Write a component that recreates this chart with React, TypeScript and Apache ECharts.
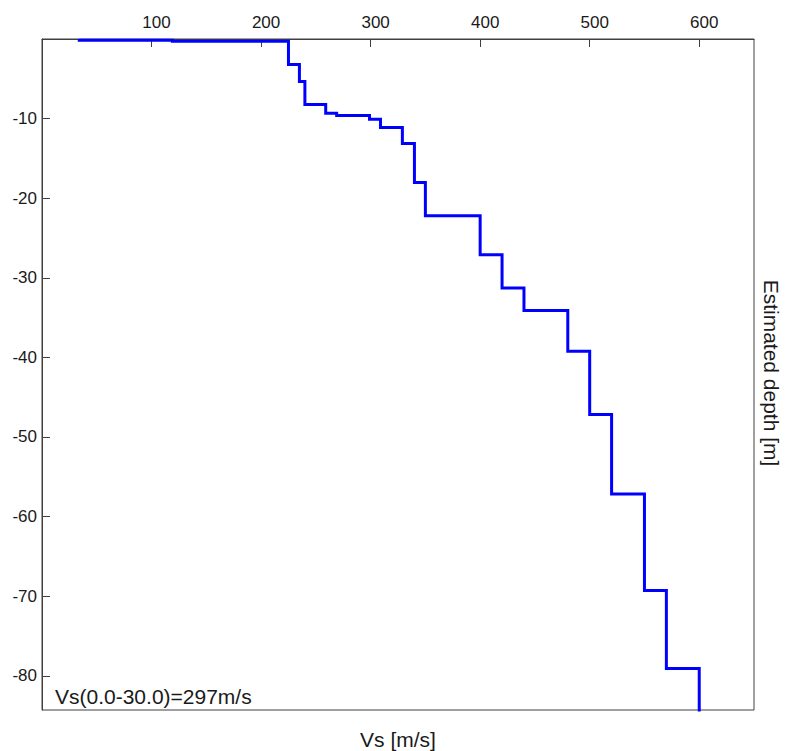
import React, { useEffect, useRef } from "react";
import * as echarts from "echarts";

// Layer shear-wave velocities [m/s], top to bottom
const layerVs = [34, 119, 225, 235, 240, 259, 269, 299, 309, 329, 340, 350, 400, 420, 440, 480, 500, 520, 550, 570, 600];
// Depth of the bottom of each layer [m]
const layerBottom = [0.15, 0.27, 3.2, 5.35, 8.24, 9.32, 9.62, 10.08, 11.13, 13.14, 18.04, 22.22, 27.12, 31.27, 34.12, 39.22, 47.18, 57.15, 69.3, 79.1, 90];
const xTicks = [100, 200, 300, 400, 500, 600];
const yTicks = [-10, -20, -30, -40, -50, -60, -70, -80];
const vs30Text = "Vs(0.0-30.0)=297m/s";

export default function App() {
  const ref = useRef<HTMLDivElement>(null);
  useEffect(() => {
    if (!ref.current) return;
    const chart = echarts.init(ref.current, null, { renderer: "svg" });
    const pts: number[][] = [];
    let top = 0;
    layerVs.forEach((v, i) => {
      pts.push([v, top]);
      pts.push([v, layerBottom[i]]);
      top = layerBottom[i];
    });
    const font = "'Liberation Sans', Arial, sans-serif";
    const axisColor = "#404040";
    const textColor = "#1a1a1a";
    chart.setOption({
      animation: false,
      backgroundColor: "#ffffff",
      grid: {
        left: 42,
        top: 39,
        right: 33,
        bottom: 41,
        show: true,
        borderColor: axisColor,
        borderWidth: 1,
        backgroundColor: "transparent",
      },
      xAxis: {
        type: "value",
        position: "top",
        min: 0,
        max: 650,
        interval: 100,
        splitLine: { show: false },
        axisLine: { show: true, lineStyle: { color: axisColor } },
        axisTick: { show: true, inside: true, length: 8, lineStyle: { color: axisColor } },
        axisLabel: {
          margin: 8,
          color: textColor,
          fontFamily: font,
          fontSize: 17,
          padding: [0, 0, 0, 10],
          showMaxLabel: false,
          formatter: (v: number) => (xTicks.includes(v) ? String(v) : ""),
        },
      },
      yAxis: {
        type: "value",
        inverse: true,
        min: 0,
        max: 84.3,
        interval: 10,
        splitLine: { show: false },
        axisLine: { show: true, lineStyle: { color: axisColor } },
        axisTick: { show: true, inside: true, length: 8, lineStyle: { color: axisColor } },
        axisLabel: {
          margin: 5,
          color: textColor,
          fontFamily: font,
          fontSize: 17,
          showMaxLabel: false,
          formatter: (v: number) => (yTicks.includes(-v) ? String(-v) : ""),
        },
      },
      series: [
        {
          type: "line",
          data: pts,
          showSymbol: false,
          symbol: "none",
          clip: true,
          lineStyle: { color: "#0000ff", width: 3, join: "miter", cap: "butt" },
        },
      ],
      graphic: [
        {
          type: "text",
          x: 55,
          y: 696,
          style: { text: vs30Text, fill: textColor, font: `21px ${font}`, align: "left", verticalAlign: "middle" },
        },
        {
          type: "text",
          x: 398,
          y: 739,
          style: { text: "Vs [m/s]", fill: textColor, font: `21px ${font}`, align: "center", verticalAlign: "middle" },
        },
        {
          type: "text",
          x: 771,
          y: 373,
          rotation: -Math.PI / 2,
          style: { text: "Estimated depth [m]", fill: textColor, font: `21px ${font}`, align: "center", verticalAlign: "middle" },
        },
      ],
    });
    return () => chart.dispose();
  }, []);
  return <div ref={ref} style={{ width: 787, height: 751, position: "absolute", left: 0, top: 0 }} />;
}
